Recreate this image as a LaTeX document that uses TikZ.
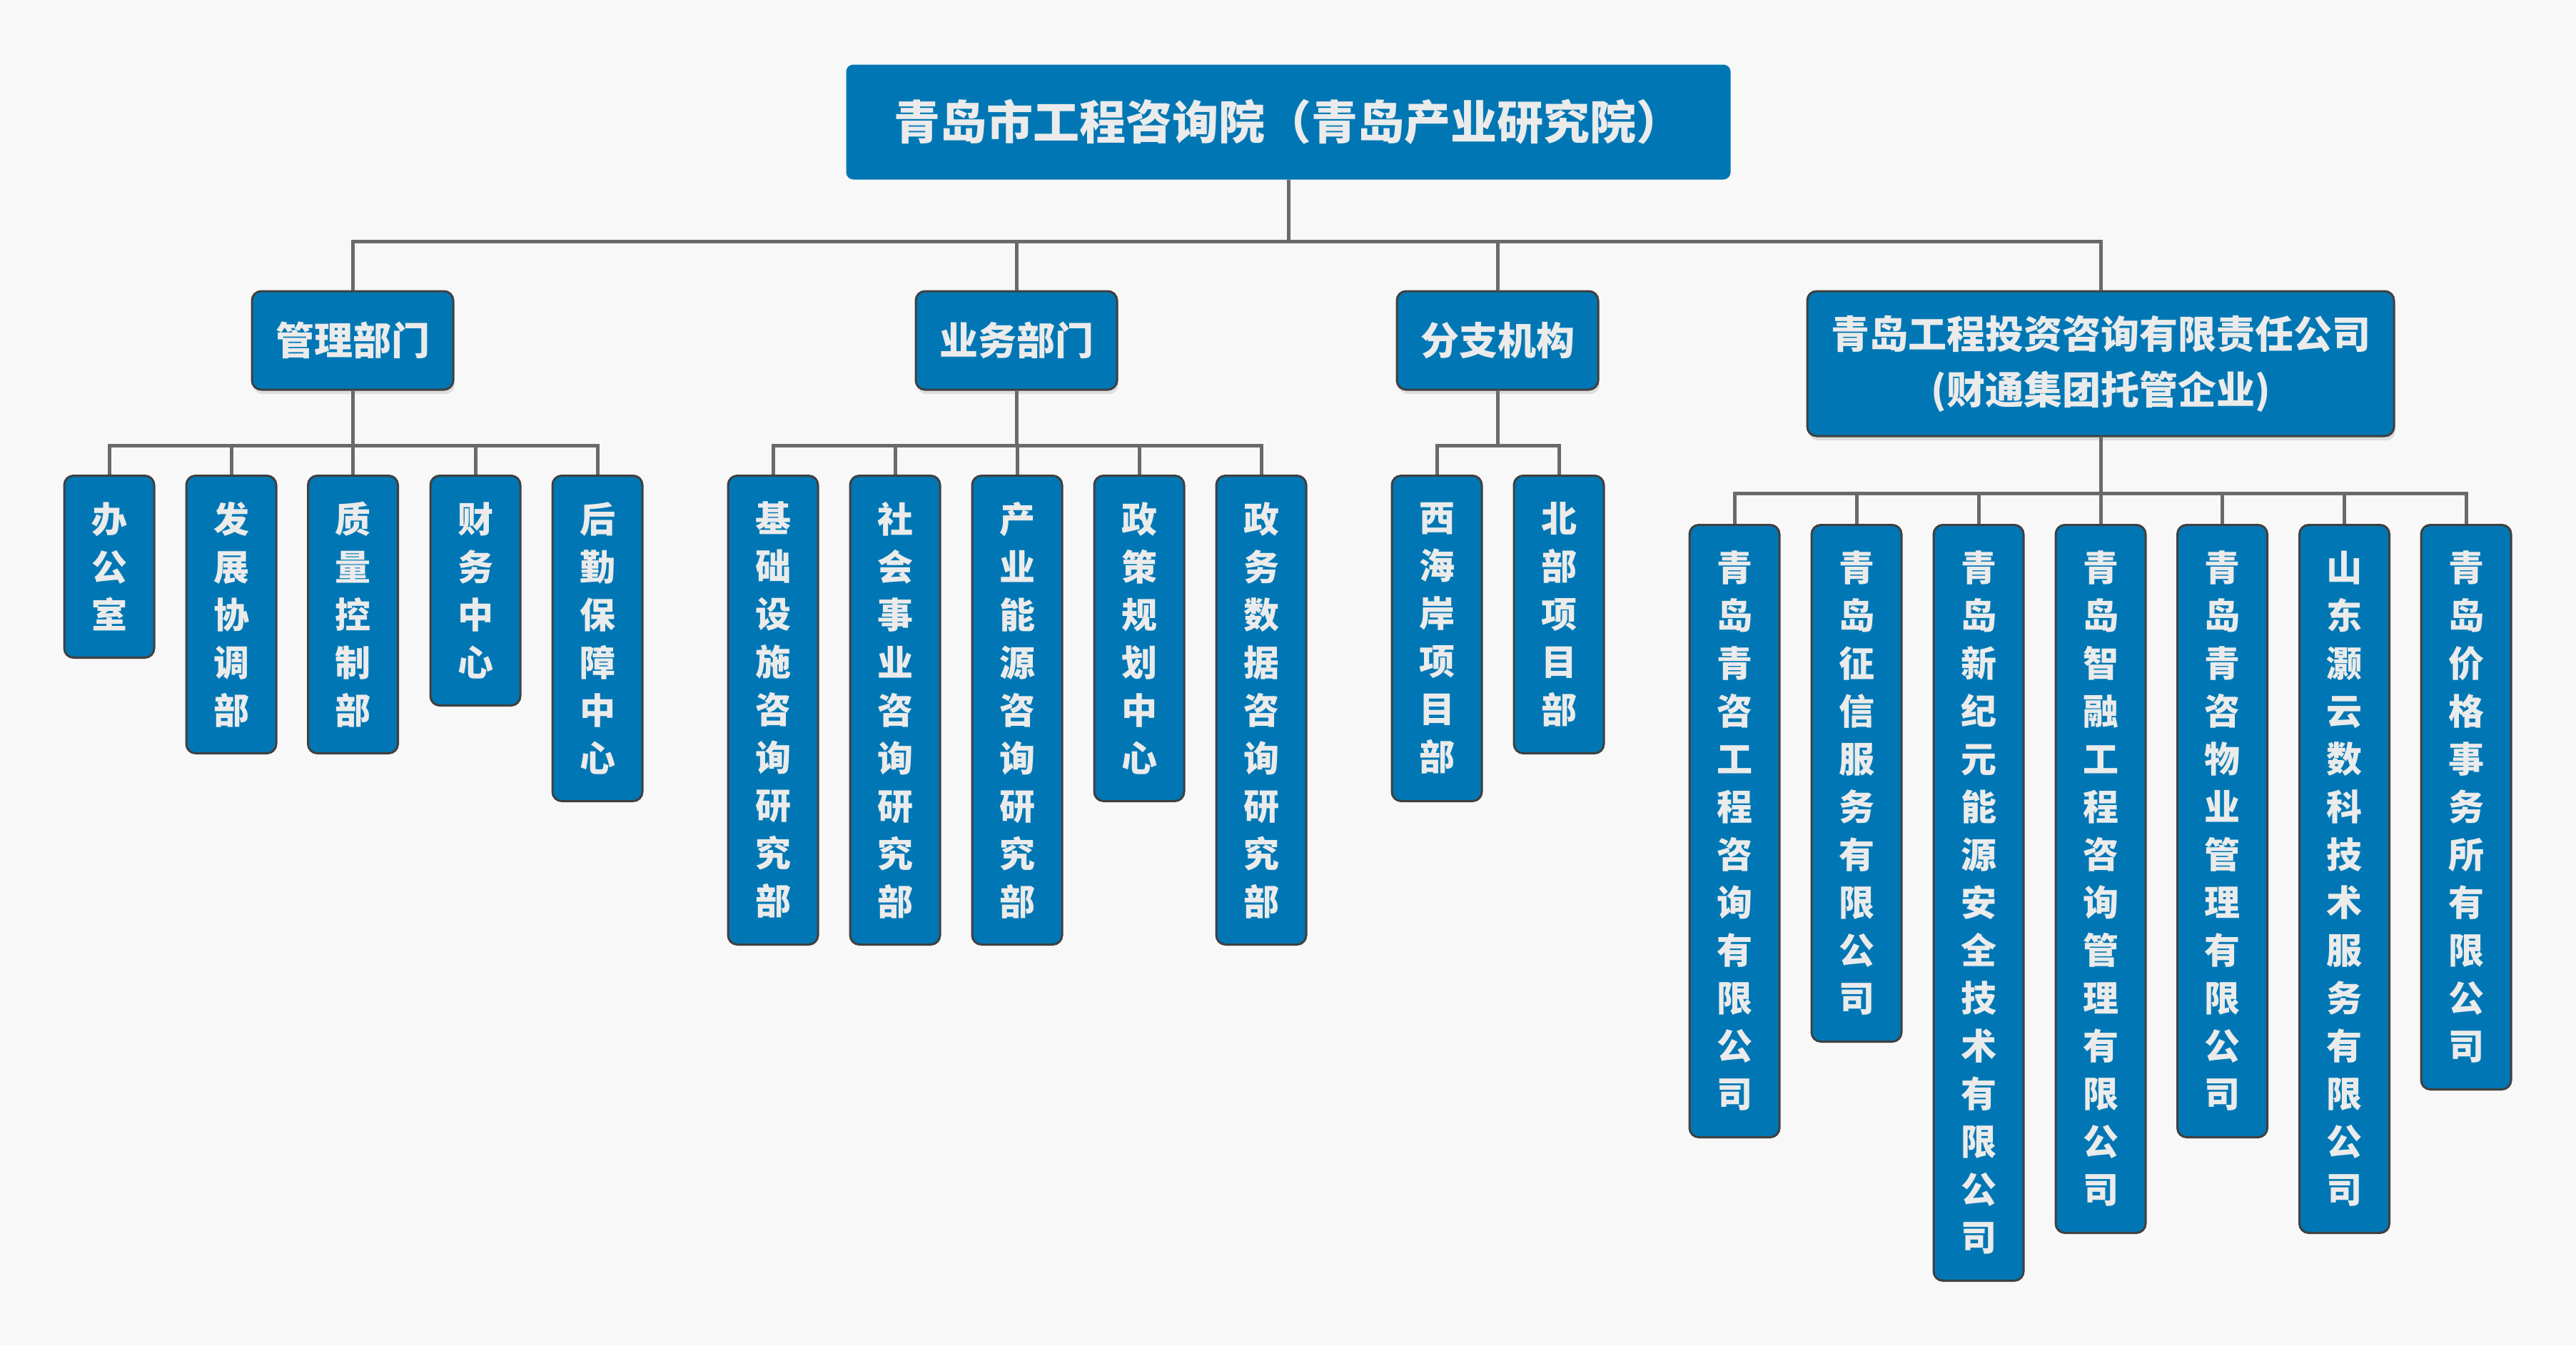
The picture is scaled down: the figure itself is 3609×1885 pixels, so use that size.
\documentclass[tikz,border=0pt]{standalone}
\usepackage{fontspec}
\newfontfamily\cjk{Noto Sans CJK SC}
\usetikzlibrary{shadows}
\definecolor{bg}{HTML}{F8F8F8}
\definecolor{boxblue}{HTML}{0077B4}
\definecolor{boxline}{HTML}{404040}
\definecolor{conncol}{HTML}{6A6A6A}
\definecolor{txtcol}{HTML}{EBEBEB}
\tikzset{
  conn/.style={draw=conncol, line width=5pt},
  topbox/.style={fill=boxblue, rounded corners=10pt, text=txtcol, inner sep=0pt,
    minimum width=1239pt, minimum height=161pt,
    font=\cjk\bfseries\fontsize{65}{72}\selectfont},
  midbox/.style={fill=boxblue, draw=boxline, line width=3pt, rounded corners=13pt,
    text=txtcol, inner sep=0pt, align=center,
    drop shadow={shadow xshift=2pt, shadow yshift=-6pt, fill=black!13, opacity=1},
    font=\cjk\bfseries\fontsize{54}{78}\selectfont},
  leaf/.style={fill=boxblue, draw=boxline, line width=3pt, rounded corners=13pt,
    text=txtcol, inner sep=0pt, align=center, anchor=north,
    minimum width=126pt, minimum height={54+67*#1},
    font=\cjk\bfseries\fontsize{50}{67}\selectfont}
}
\begin{document}
\begin{tikzpicture}[x=1pt,y=-1pt]
\fill[bg] (0,0) rectangle (3609,1885);
\useasboundingbox (0,0) rectangle (3609,1885);

% top
\node[topbox] (top) at (1805,171) {青岛市工程咨询院（青岛产业研究院）};

% level 2
\node[midbox, minimum width=282pt, minimum height=138pt] (mg) at (494,477) {管理部门};
\node[midbox, minimum width=282pt, minimum height=138pt] (yw) at (1424,477) {业务部门};
\node[midbox, minimum width=282pt, minimum height=138pt] (fz) at (2098,477) {分支机构};
\node[midbox, minimum width=822pt, minimum height=203pt] (gs) at (2943,509.5) {青岛工程投资咨询有限责任公司\\(财通集团托管企业)};

% management leaves
\node[leaf=3] (m1) at (153,665) {办\\公\\室};
\node[leaf=5] (m2) at (324,665) {发\\展\\协\\调\\部};
\node[leaf=5] (m3) at (494.5,665) {质\\量\\控\\制\\部};
\node[leaf=4] (m4) at (666,665) {财\\务\\中\\心};
\node[leaf=6] (m5) at (837,665) {后\\勤\\保\\障\\中\\心};

% business leaves
\node[leaf=9] (y1) at (1083,665) {基\\础\\设\\施\\咨\\询\\研\\究\\部};
\node[leaf=9] (y2) at (1254,665) {社\\会\\事\\业\\咨\\询\\研\\究\\部};
\node[leaf=9] (y3) at (1425,665) {产\\业\\能\\源\\咨\\询\\研\\究\\部};
\node[leaf=6] (y4) at (1596,665) {政\\策\\规\\划\\中\\心};
\node[leaf=9] (y5) at (1767,665) {政\\务\\数\\据\\咨\\询\\研\\究\\部};

% branch leaves
\node[leaf=6] (f1) at (2013,665) {西\\海\\岸\\项\\目\\部};
\node[leaf=5] (f2) at (2184,665) {北\\部\\项\\目\\部};

% company leaves
\node[leaf=12] (g1) at (2430,734) {青\\岛\\青\\咨\\工\\程\\咨\\询\\有\\限\\公\\司};
\node[leaf=10] (g2) at (2601,734) {青\\岛\\征\\信\\服\\务\\有\\限\\公\\司};
\node[leaf=15] (g3) at (2772,734) {青\\岛\\新\\纪\\元\\能\\源\\安\\全\\技\\术\\有\\限\\公\\司};
\node[leaf=14] (g4) at (2943,734) {青\\岛\\智\\融\\工\\程\\咨\\询\\管\\理\\有\\限\\公\\司};
\node[leaf=12] (g5) at (3113.5,734) {青\\岛\\青\\咨\\物\\业\\管\\理\\有\\限\\公\\司};
\node[leaf=14] (g6) at (3284.5,734) {山\\东\\灏\\云\\数\\科\\技\\术\\服\\务\\有\\限\\公\\司};
\node[leaf=11] (g7) at (3455,734) {青\\岛\\价\\格\\事\\务\\所\\有\\限\\公\\司};

% bus coordinates
\coordinate (b0) at (1805,338);
\coordinate (bm) at (494,624);
\coordinate (by) at (1424,624);
\coordinate (bf) at (2098,624);
\coordinate (bg) at (2943,691);

% connectors
\draw[conn] (top.south) -- (b0);
\foreach \c in {mg,yw,fz,gs} \draw[conn] (b0) -| (\c.north);
\draw[conn] (mg.south) -- (bm);
\foreach \c in {m1,m2,m3,m4,m5} \draw[conn] (bm) -| (\c.north);
\draw[conn] (yw.south) -- (by);
\foreach \c in {y1,y2,y3,y4,y5} \draw[conn] (by) -| (\c.north);
\draw[conn] (fz.south) -- (bf);
\foreach \c in {f1,f2} \draw[conn] (bf) -| (\c.north);
\draw[conn] (gs.south) -- (bg);
\foreach \c in {g1,g2,g3,g4,g5,g6,g7} \draw[conn] (bg) -| (\c.north);
\end{tikzpicture}
\end{document}
